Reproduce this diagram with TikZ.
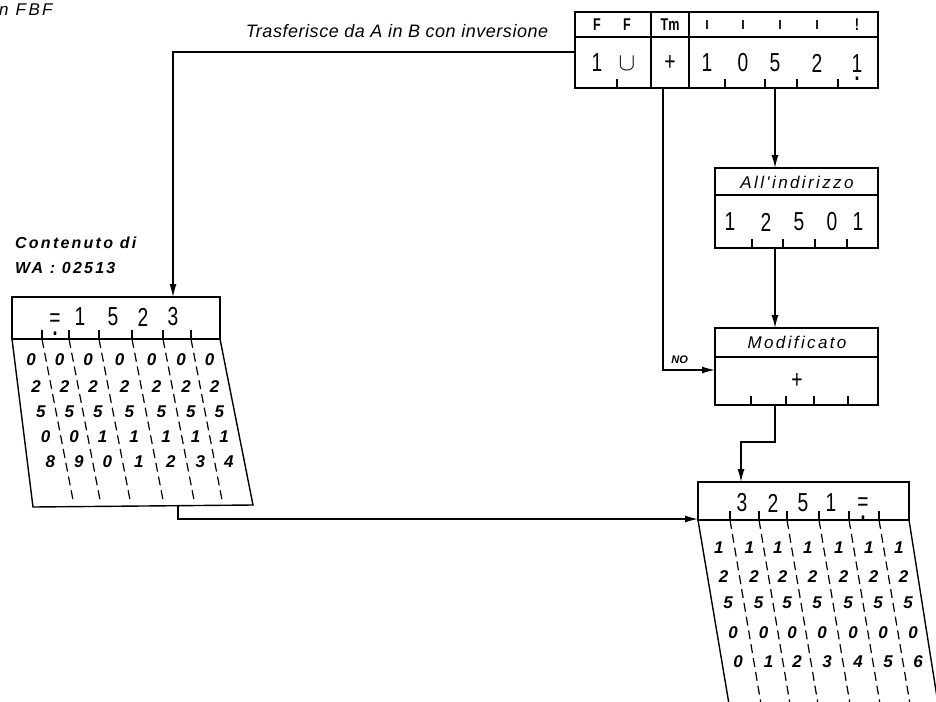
\documentclass[tikz,border=0pt]{standalone}
\usepackage{amsmath}
\usepackage{fontspec}
\setmainfont{Liberation Sans}
\newfontfamily\dinfont[FakeStretch=0.74]{Liberation Sans}
\newfontfamily\widefont[LetterSpace=14]{Liberation Sans}
\newfontfamily\titlefont[LetterSpace=3]{Liberation Sans}
\usetikzlibrary{arrows.meta}
\newcommand\undot[1]{\ooalign{#1\cr\hidewidth\raisebox{-9pt}{\fontsize{24}{24}\selectfont\bfseries .}\hidewidth\cr}}
\tikzset{
  panel/.style={draw, line width=2.4pt, inner sep=0pt, outer sep=0pt},
  divider/.style={line width=2.4pt},
  body/.style={line width=1.4pt},
  colsep/.style={line width=1.2pt, dash pattern=on 9pt off 5pt},
  notch/.style={line width=1.3pt},
  flow/.style={line width=1.3pt, -{Latex[length=13pt,width=7pt]}},
  digit/.style={font=\dinfont\fontsize{26}{26}\selectfont, inner sep=0pt},
  small/.style={font=\dinfont\bfseries\fontsize{17}{17}\selectfont, inner sep=0pt},
  lettering/.style={font=\widefont\itshape\fontsize{17}{19}\selectfont, inner sep=0pt},
  heavy/.style={font=\widefont\bfseries\itshape\fontsize{16}{18}\selectfont, inner sep=0pt},
  cell/.style={font=\bfseries\itshape\fontsize{17}{17}\selectfont, inner sep=0pt}
}

\begin{document}
\begin{tikzpicture}[x=1pt, y=-1pt]
  \useasboundingbox (0,0) rectangle (936,701);
  \clip (0,0) rectangle (936,701);

  % Titles
  \node[lettering, anchor=west] (fbf) at (-1,10) {n FBF};
  \node[font=\titlefont\itshape\fontsize{18}{20}\selectfont, inner sep=0pt] (title) at (397,31)
    {Trasferisce da A in B con inversione};
  \node[heavy, anchor=west] (wa1) at (15,243) {Contenuto di};
  \node[heavy, anchor=west] (wa2) at (15,268) {WA : 02513};

  % Instruction word
  \node[panel, minimum width=303pt, minimum height=76pt] (instr) at (726.5,50) {};
  \draw[divider] (instr.west |- 0,37) -- (instr.east |- 0,37);
  \draw[divider] (651,12) -- (651,88);
  \draw[divider] (689,12) -- (689,88);
  \node[small] (ff1) at (597,25) {F};
  \node[small] (ff2) at (627,25) {F};
  \node[small] (tm) at (670,25) {Tm};
  \foreach \x [count=\i] in {707,743,780,817}
    \node[small] (mk\i) at (\x,25) {ı};
  \node[small] (mk5) at (857,25) {!};
  \node[digit] (iw1) at (597,63) {1};
  \node[digit, font=\fontsize{26}{26}\selectfont] (iw2) at (627,64) {$\cup$};
  \node[digit] (iw3) at (670,63) {+};
  \foreach \d/\x [count=\i from 4] in {1/707,0/743,5/775,2/817}
    \node[digit] (iw\i) at (\x,63) {\d};
  \node[digit, anchor=base] (iw8) at (857,72) {\undot{1}};
  \foreach \x in {617,725,765,797,838}
    \draw[notch] (\x,88) -- (\x,79);

  % Address box
  \node[panel, minimum width=163pt, minimum height=80pt] (addr) at (796.5,208) {};
  \draw[divider] (addr.west |- 0,195) -- (addr.east |- 0,195);
  \node[lettering] (addrtxt) at (797,182) {All'indirizzo};
  \foreach \d/\x [count=\i] in {1/730,2/766,5/799,0/832,1/858}
    \node[digit] (ad\i) at (\x,222) {\d};
  \foreach \x in {752,783,815,847}
    \draw[notch] (\x,248) -- (\x,239);

  % Modifier box
  \node[panel, minimum width=163pt, minimum height=77pt] (mod) at (796.5,366.5) {};
  \draw[divider] (mod.west |- 0,357) -- (mod.east |- 0,357);
  \node[lettering] (modtxt) at (797,342) {Modificato};
  \node[digit] (modval) at (797,381) {+};
  \foreach \x in {751,786,814,848}
    \draw[notch] (\x,405) -- (\x,396);

  % Source word (left)
  \node[panel, minimum width=208pt, minimum height=42pt] (lhead) at (116,318) {};
  \coordinate (lbl) at (33,507);
  \coordinate (lbr) at (253,505);
  \draw[body] (lhead.south west) -- (lbl) -- (lbr) -- (lhead.south east);
  \foreach \x in {42,69,99,132,163,191} {
    \draw[notch] (\x,339) -- (\x,330);
    \draw[colsep] (\x,339) -- ++(31,161);
  }
  \node[digit, anchor=base] (ls1) at (55,326) {\undot{=}};
  \foreach \d/\x [count=\i from 2] in {1/80,5/113,2/143,3/173}
    \node[digit] (ls\i) at (\x,317) {\d};
  \foreach \r/\yy/\row in {1/360/{0,0,0,0,0,0,0}, 2/387/{2,2,2,2,2,2,2},
      3/412/{5,5,5,5,5,5,5}, 4/437/{0,0,1,1,1,1,1}, 5/462/{8,9,0,1,2,3,4}}
    \foreach \d [count=\c] in \row {
      \pgfmathsetmacro\bx{{27,55.5,84,115.5,147.5,177,205.5}[\c-1]+0.19*(\yy-339)}
      \node[cell] (l\r\c) at (\bx,\yy) {\d};
    }

  % Destination word (right)
  \node[panel, minimum width=211pt, minimum height=38pt] (rhead) at (803.5,501) {};
  \draw[body] (rhead.south west) -- ++(32,190);
  \draw[body] (rhead.south east) -- ++(30,190);
  \foreach \x in {730,759,787,819,849,879} {
    \draw[notch] (\x,520) -- (\x,511);
    \draw[colsep] (\x,520) -- ++(32,190);
  }
  \foreach \d/\x [count=\i] in {3/742,2/773,5/803,1/831}
    \node[digit] (rs\i) at (\x,503) {\d};
  \node[digit, anchor=base] (rs5) at (863,510) {\undot{=}};
  \foreach \r/\yy/\row in {1/548/{1,1,1,1,1,1,1}, 2/577/{2,2,2,2,2,2,2},
      3/603/{5,5,5,5,5,5,5}, 4/633/{0,0,0,0,0,0,0}, 5/662/{0,1,2,3,4,5,6}}
    \foreach \d [count=\c] in \row {
      \pgfmathsetmacro\bx{{714,744.5,773,803,834,864,894}[\c-1]+0.17*(\yy-520)}
      \node[cell] (r\r\c) at (\bx,\yy) {\d};
    }

  % Connections
  \coordinate (lin) at (173,0);
  \coordinate (tmx) at (663,0);
  \coordinate (col5) at (775,0);
  \coordinate (mbend) at (741,442);
  \coordinate (lout) at (178,506);
  \draw[flow] ([yshift=-2pt]instr.west) -| (lhead.north -| lin);
  \draw[flow] (instr.south -| col5) -- (addr.north -| col5);
  \draw[flow] (addr.south -| col5) -- (mod.north -| col5);
  \draw[flow] (instr.south -| tmx) |- ([yshift=-3.5pt]mod.west)
    node[heavy, font=\bfseries\itshape\fontsize{11}{11}\selectfont, pos=0.66, above=6pt] (no) {NO};
  \draw[flow] (mod.south -| col5) |- (mbend) -- (rhead.north -| mbend);
  \draw[flow] (lout) |- ([yshift=1pt]rhead.south west);

\end{tikzpicture}
\end{document}
